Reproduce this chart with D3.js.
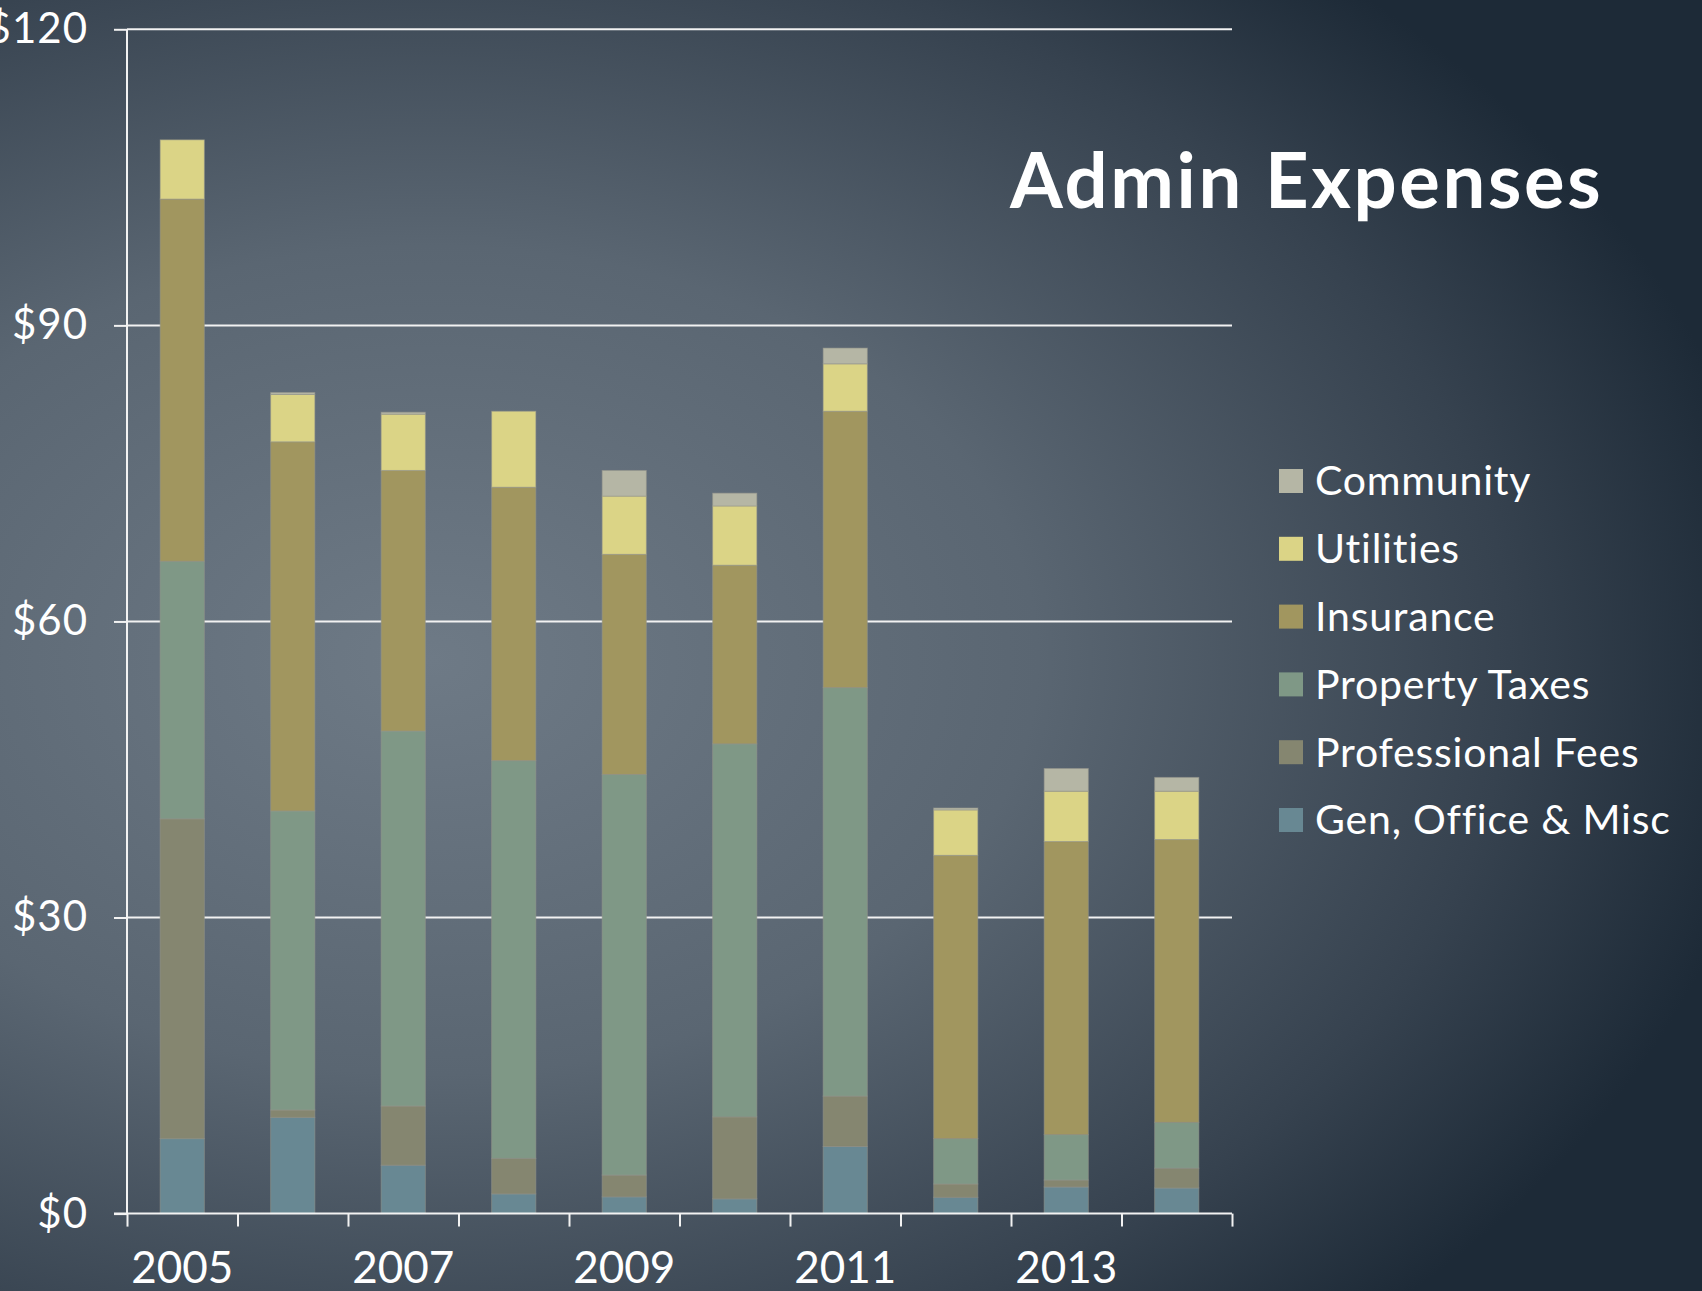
<!DOCTYPE html>
<html>
<head>
<meta charset="utf-8">
<script src="https://cdn.jsdelivr.net/npm/d3@7"></script>
<style>
  html, body { margin: 0; padding: 0; background: #2a3643; }
  #canvas { width: 1702px; height: 1291px; overflow: hidden; }
  text { font-family: Lato, "Noto Sans", sans-serif; fill: #ffffff; }
</style>
</head>
<body>
<div id="canvas"></div>
<script>
// chart size
const width = 1702;
const height = 1291;

// data ($, stacked bottom to top)
const years = ['2005', '2006', '2007', '2008', '2009', '2010', '2011', '2012', '2013', '2014'];
const series = ['Gen, Office & Misc', 'Professional Fees', 'Property Taxes', 'Insurance', 'Utilities', 'Community'];
const genOffice    = [7.6, 9.75, 4.9, 2.0, 1.7, 1.5, 6.8, 1.65, 2.7, 2.6];
const profFees     = [32.4, 0.75, 6.0, 3.6, 2.2, 8.3, 5.1, 1.35, 0.7, 2.0];
const propTaxes    = [26.1, 30.3, 38.0, 40.3, 40.6, 37.8, 41.4, 4.6, 4.6, 4.65];
const insurance    = [36.7, 37.4, 26.4, 27.7, 22.3, 18.1, 28.0, 28.7, 29.7, 28.65];
const utilities    = [6.0, 4.8, 5.7, 7.7, 5.9, 6.0, 4.8, 4.6, 5.1, 4.9];
const community    = [0, 0.2, 0.2, 0, 2.6, 1.3, 1.6, 0.2, 2.3, 1.4];
const yTicks = [0, 30, 60, 90, 120];
const xLabels = ['2005', '2007', '2009', '2011', '2013'];
const colors = ['#688893', '#858670', '#7f9886', '#a1965f', '#dbd486', '#b5b6a5'];

// table for d3.stack
const table = years.map((y, i) => ({
  year: y,
  'Gen, Office & Misc': genOffice[i],
  'Professional Fees': profFees[i],
  'Property Taxes': propTaxes[i],
  'Insurance': insurance[i],
  'Utilities': utilities[i],
  'Community': community[i]
}));

const svg = d3.select('#canvas')
  .append('svg')
  .attr('width', width)
  .attr('height', height);

// background: soft radial light, darker to the right
const defs = svg.append('defs');
const grad = defs.append('radialGradient')
  .attr('id', 'bg')
  .attr('gradientUnits', 'userSpaceOnUse')
  .attr('cx', 0).attr('cy', 0).attr('r', 1)
  .attr('gradientTransform', 'translate(430,660) scale(1350,920)');
grad.append('stop').attr('offset', 0).attr('stop-color', '#6e7a86');
grad.append('stop').attr('offset', 0.45).attr('stop-color', '#5a6672');
grad.append('stop').attr('offset', 0.8).attr('stop-color', '#36424f');
grad.append('stop').attr('offset', 1).attr('stop-color', '#1d2a37');
svg.append('rect').attr('width', width).attr('height', height).attr('fill', 'url(#bg)');

// plot area
const margin = { top: 29.3, left: 127, right: width - 1232, bottom: height - 1213.6 };

const x = d3.scaleBand()
  .domain(years)
  .range([margin.left, width - margin.right])
  .paddingInner(0.6)
  .paddingOuter(0.3);

const xEdges = d3.scaleLinear()
  .domain([0, years.length])
  .range([margin.left, width - margin.right]);

const y = d3.scaleLinear()
  .domain([0, 120])
  .range([height - margin.bottom, margin.top]);

// gridlines
svg.append('g')
  .selectAll('line')
  .data(yTicks.slice(1))
  .join('line')
    .attr('x1', margin.left)
    .attr('x2', width - margin.right)
    .attr('y1', d => y(d))
    .attr('y2', d => y(d))
    .attr('stroke', '#f2f2f2')
    .attr('stroke-width', 2);

// stacked bars
const stacked = d3.stack().keys(series)(table);

svg.append('g')
  .selectAll('g')
  .data(stacked)
  .join('g')
    .attr('fill', (d, i) => colors[i])
  .selectAll('rect')
  .data(d => d)
  .join('rect')
    .attr('x', d => x(d.data.year))
    .attr('width', x.bandwidth())
    .attr('y', d => y(d[1]))
    .attr('height', d => y(d[0]) - y(d[1]))
    .attr('stroke', 'rgba(150,150,140,0.55)')
    .attr('stroke-width', 1);

// y axis
const yAxis = svg.append('g')
  .attr('transform', `translate(${margin.left},0)`)
  .call(d3.axisLeft(y).tickValues(yTicks).tickSize(13).tickPadding(26).tickFormat(d => '$' + d));
yAxis.selectAll('line, path').attr('stroke', '#f2f2f2').attr('stroke-width', 2);
yAxis.select('.domain').attr('d', `M0,${y(0)}V${y(120)}`);
yAxis.selectAll('text')
  .style('font-size', '42px')
  .style('letter-spacing', '1px')
  .attr('fill', '#ffffff');

// x axis: ticks on category edges
const xAxis = svg.append('g')
  .attr('transform', `translate(0,${y(0)})`)
  .call(d3.axisBottom(xEdges).tickValues(d3.range(years.length + 1)).tickSize(13).tickFormat(''));
xAxis.selectAll('line, path').attr('stroke', '#f2f2f2').attr('stroke-width', 2);
xAxis.select('.domain').attr('d', `M${margin.left - 13},0H${width - margin.right}`);

svg.append('g')
  .selectAll('text')
  .data(xLabels)
  .join('text')
    .attr('x', d => x(d) + x.bandwidth() / 2)
    .attr('y', y(0) + 69)
    .attr('text-anchor', 'middle')
    .style('font-size', '44px')
    .text(d => d);

// title
svg.append('text')
  .attr('x', 1010)
  .attr('y', 208)
  .style('font-size', '76px')
  .style('font-weight', 700)
  .style('letter-spacing', '2.6px')
  .text('Admin Expenses');

// legend, top entry is the top of the stack
const legend = svg.append('g')
  .selectAll('g')
  .data(series.slice().reverse())
  .join('g')
    .attr('transform', (d, i) => `translate(1279,${481 + i * 67.8})`);

legend.append('rect')
  .attr('y', -12)
  .attr('width', 24)
  .attr('height', 24)
  .attr('fill', d => colors[series.indexOf(d)]);

legend.append('text')
  .attr('x', 36)
  .attr('dy', '0.35em')
  .style('font-size', '41px')
  .style('letter-spacing', '0.8px')
  .text(d => d);
</script>
</body>
</html>
